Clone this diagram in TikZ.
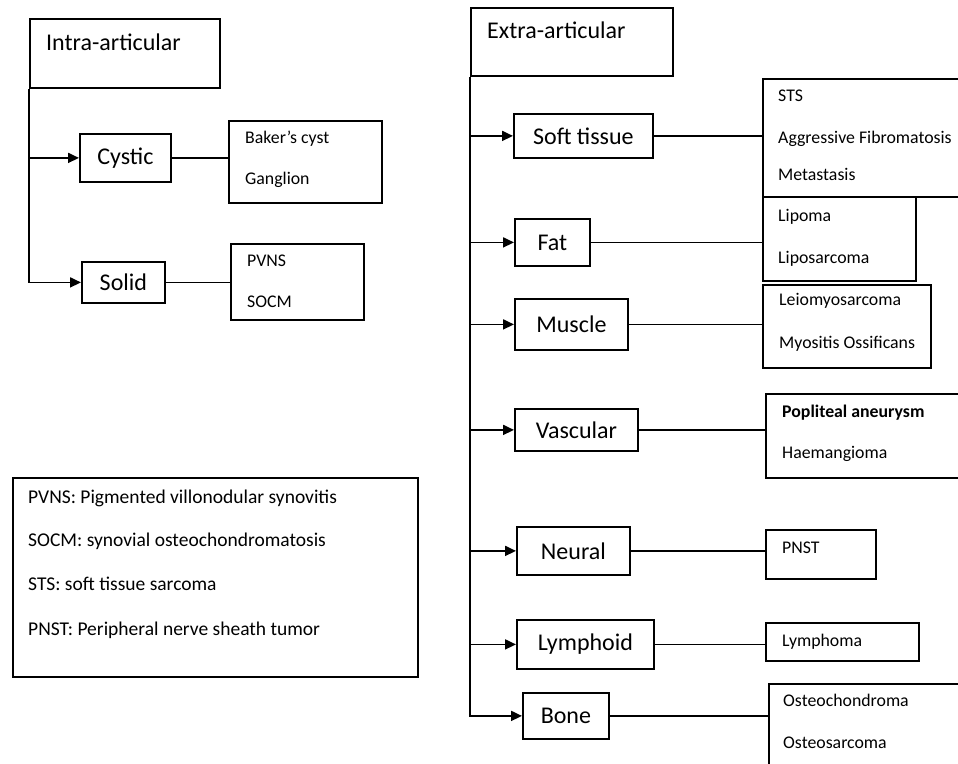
\documentclass[tikz,border=0pt]{standalone}
\usepackage{fontspec}
\setmainfont{Carlito}
\usetikzlibrary{arrows.meta}
\tikzset{
  box/.style={draw, line width=1.8pt, inner sep=0pt, anchor=north west},
  cat/.style={box, font=\fontsize{24}{28}\selectfont},
  hdr/.style={anchor=base west, inner sep=0pt, font=\fontsize{24}{28}\selectfont},
  lt/.style={anchor=base west, inner sep=0pt, font=\fontsize{17.8}{21}\selectfont},
  lg/.style={anchor=base west, inner sep=0pt, font=\fontsize{19.5}{23}\selectfont},
  conn/.style={line width=1.8pt},
  arr/.style={line width=1.8pt, -{Triangle[length=11pt,width=10pt]}},
}
\begin{document}
\begin{tikzpicture}[x=1pt,y=-1pt]
\useasboundingbox (0,0) rectangle (958,763);
\clip (0,0) rectangle (958,763);
\fill[white] (0,0) rectangle (958,763);
% ---------- left: intra-articular ----------
\node[box, minimum width=190pt, minimum height=69pt] (intra) at (29,18) {};
\node[hdr] (intrat) at (46,50) {Intra-articular};
\node[cat, minimum width=91pt, minimum height=48pt] (cystic) at (79,133) {Cystic};
\node[cat, minimum width=83pt, minimum height=41pt] (solid) at (81,261) {Solid};
\node[box, minimum width=153pt, minimum height=82pt] (cysticlist) at (228,120) {};
\node[lt] (baker) at (245,143) {Baker’s cyst};
\node[lt] (ganglion) at (245,184) {Ganglion};
\node[box, minimum width=133pt, minimum height=76pt] (solidlist) at (230,243) {};
\node[lt] (pvns) at (247,266) {PVNS};
\node[lt] (socm) at (247,307) {SOCM};
\draw[arr] (intra.south west |- cystic.west) -- (cystic.west);
\draw[arr] (intra.south west) -- (intra.south west |- solid.west) -- (solid.west);
\draw[conn] (cystic.east) -- (cystic.east -| cysticlist.west);
\draw[conn] (solid.east) -- (solid.east -| solidlist.west);
% ---------- legend ----------
\node[box, minimum width=405pt, minimum height=199pt] (legend) at (12,477) {};
\node[lg] (l1) at (28,503) {PVNS: Pigmented villonodular synovitis};
\node[lg] (l2) at (28,546) {SOCM: synovial osteochondromatosis};
\node[lg] (l3) at (28,590) {STS: soft tissue sarcoma};
\node[lg] (l4) at (28,635) {PNST: Peripheral nerve sheath tumor};
% ---------- right: extra-articular ----------
\node[box, minimum width=202pt, minimum height=68pt] (extra) at (470,7) {};
\node[hdr] (extrat) at (487,38) {Extra-articular};
\node[cat, minimum width=139pt, minimum height=44pt] (soft) at (513,113) {Soft tissue};
\node[cat, minimum width=75pt, minimum height=47pt] (fat) at (514,218) {Fat};
\node[cat, minimum width=113pt, minimum height=51pt] (muscle) at (514,298) {Muscle};
\node[cat, minimum width=123pt, minimum height=42pt] (vascular) at (514,408) {Vascular};
\node[cat, minimum width=113pt, minimum height=48pt] (neural) at (516,526) {Neural};
\node[cat, minimum width=137pt, minimum height=49pt] (lymphoid) at (516,619) {Lymphoid};
\node[cat, minimum width=86pt, minimum height=46pt] (bone) at (522,692) {Bone};
% lists
\node[box, minimum width=230pt, minimum height=118pt] (softlist) at (762,78) {};
\node[lt] (sts) at (778,101) {STS};
\node[lt] (aggr) at (778,143) {Aggressive Fibromatosis};
\node[lt] (meta) at (778,180) {Metastasis};
\node[box, minimum width=153pt, minimum height=84pt] (fatlist) at (762,196) {};
\node[lt] (lipoma) at (778,221) {Lipoma};
\node[lt] (lipos) at (778,263) {Liposarcoma};
\node[box, minimum width=168pt, minimum height=83pt] (musclelist) at (762,284) {};
\node[lt] (leio) at (779,305) {Leiomyosarcoma};
\node[lt] (myo) at (779,348) {Myositis Ossificans};
\node[box, minimum width=230pt, minimum height=84pt] (vascularlist) at (765,393) {};
\node[lt, font=\fontsize{17.8}{21}\selectfont\bfseries] (popl) at (782,417) {Popliteal aneurysm};
\node[lt] (haem) at (782,458) {Haemangioma};
\node[box, minimum width=110pt, minimum height=49pt] (neurallist) at (765,529) {};
\node[lt] (pnst) at (782,553) {PNST};
\node[box, minimum width=153pt, minimum height=38pt] (lymphoidlist) at (765,622) {};
\node[lt] (lymphoma) at (782,646) {Lymphoma};
\node[box, minimum width=230pt, minimum height=120pt] (bonelist) at (768,683) {};
\node[lt] (osteoch) at (783,706) {Osteochondroma};
\node[lt] (osteos) at (783,748) {Osteosarcoma};
% trunk and arrows
\draw[arr] (extra.south west |- soft.west) -- (soft.west);
\draw[arr] (extra.south west |- fat.west) -- (fat.west);
\draw[arr] (extra.south west |- muscle.west) -- (muscle.west);
\draw[arr] (extra.south west |- vascular.west) -- (vascular.west);
\draw[arr] (extra.south west |- neural.west) -- (neural.west);
\draw[arr] (extra.south west |- lymphoid.west) -- (lymphoid.west);
\draw[arr] (extra.south west) -- (extra.south west |- bone.west) -- (bone.west);
% connectors
\draw[conn] (soft.east) -- (soft.east -| softlist.west);
\draw[conn] (fat.east) -- (fat.east -| fatlist.west);
\draw[conn] (muscle.east) -- (muscle.east -| musclelist.west);
\draw[conn] (vascular.east) -- (vascular.east -| vascularlist.west);
\draw[conn] (neural.east) -- (neural.east -| neurallist.west);
\draw[conn] (lymphoid.east) -- (lymphoid.east -| lymphoidlist.west);
\draw[conn] (bone.east) -- (bone.east -| bonelist.west);
\end{tikzpicture}
\end{document}
